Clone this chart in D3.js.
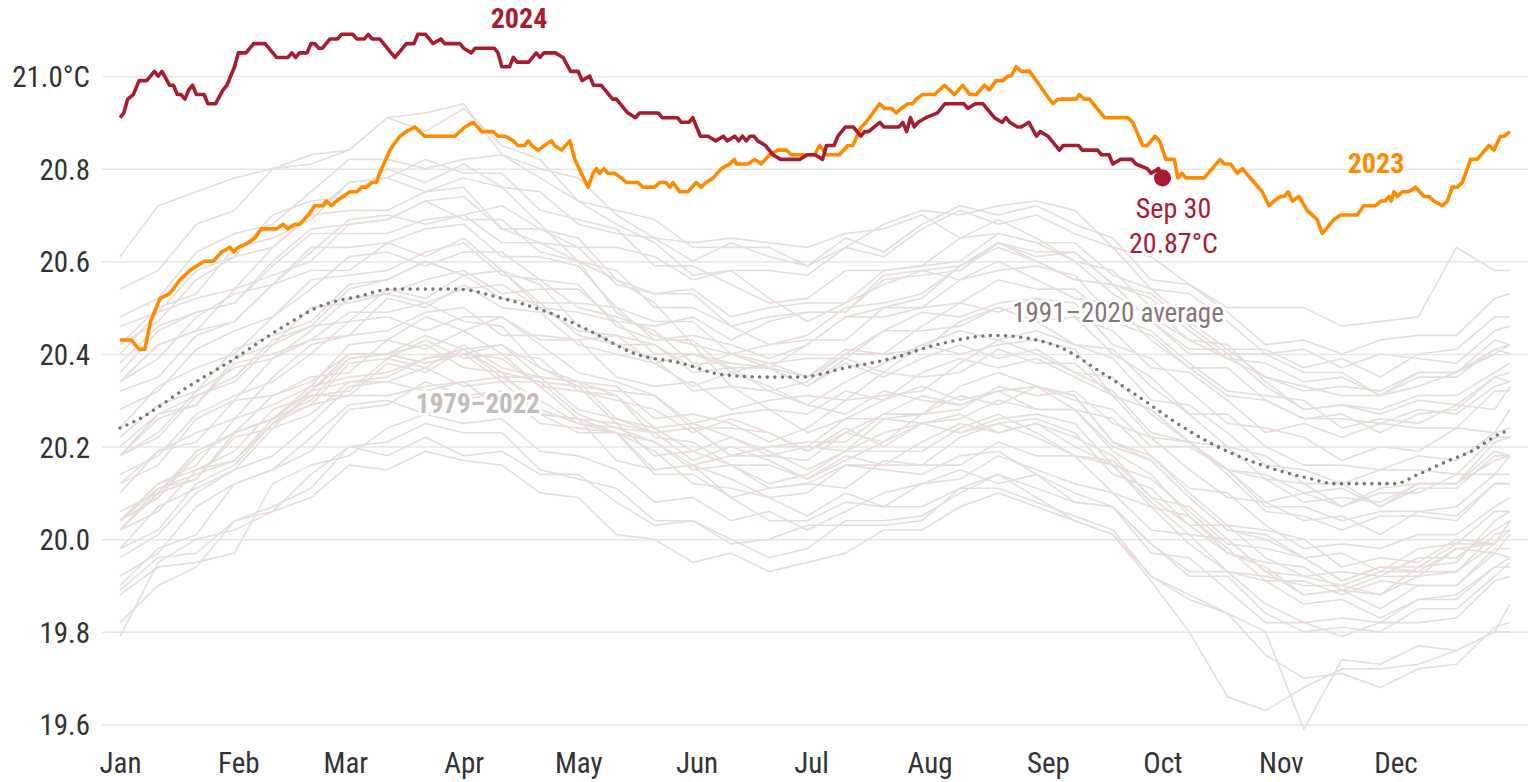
<!DOCTYPE html>
<html>
<head>
<meta charset="utf-8">
<script src="https://cdn.jsdelivr.net/npm/d3@7"></script>
<style>
  body { margin: 0; background: #fff; }
  svg { display: block; font-family: "Roboto Condensed", "Liberation Sans Narrow", "DejaVu Sans Condensed", Roboto, sans-serif; }
  .halo { paint-order: stroke; stroke: #fff; stroke-width: 6px; stroke-linejoin: round; }
</style>
</head>
<body>
<svg width="1528" height="782"></svg>
<script>
// month ticks (day of year, 0 = Jan 1)
var monthStarts = [0, 31, 59, 90, 120, 151, 181, 212, 243, 273, 304, 334];
var monthNames = ["Jan", "Feb", "Mar", "Apr", "May", "Jun", "Jul", "Aug", "Sep", "Oct", "Nov", "Dec"];
var yTicks = [19.6, 19.8, 20.0, 20.2, 20.4, 20.6, 20.8, 21.0];

// 1979-2022, read every 10 days
var grayDays = [0, 10, 20, 30, 40, 50, 60, 70, 80, 90, 100, 110, 120, 130, 140, 150, 160, 170, 180, 190,
  200, 210, 220, 230, 240, 250, 260, 270, 280, 290, 300, 310, 320, 330, 340, 350, 360, 364];
var pastYears = [1979, 1980, 1981, 1982, 1983, 1984, 1985, 1986, 1987, 1988, 1989, 1990, 1991, 1992, 1993, 1994, 1995, 1996, 1997, 1998, 1999, 2000,
  2001, 2002, 2003, 2004, 2005, 2006, 2007, 2008, 2009, 2010, 2011, 2012, 2013, 2014, 2015, 2016, 2017, 2018, 2019, 2020, 2021, 2022];
var pastValues = [
  [20.04,20.11,20.13,20.22,20.24,20.27,20.34,20.34,20.37,20.33,20.34,20.27,20.26,20.25,20.18,20.19,20.16,20.12,20.14,20.19,20.19,20.19,20.24,20.27,20.23,20.18,20.17,20.09,20.03,20.03,19.96,19.92,19.93,19.92,19.96,19.96,20.02,20.04],
  [20.02,20.06,20.15,20.19,20.28,20.31,20.32,20.39,20.37,20.42,20.37,20.35,20.28,20.26,20.24,20.19,20.22,20.19,20.15,20.19,20.23,20.25,20.23,20.25,20.26,20.23,20.14,20.11,20.03,19.97,19.95,19.94,19.89,19.92,19.92,19.98,19.99,20.04],
  [20.04,20.12,20.15,20.17,20.25,20.31,20.31,20.31,20.33,20.34,20.28,20.27,20.26,20.17,20.15,20.16,20.09,20.11,20.12,20.11,20.17,20.16,20.16,20.21,20.18,20.18,20.10,20.07,19.99,19.93,19.91,19.86,19.87,19.83,19.87,19.88,19.94,19.94],
  [19.92,19.97,20.07,20.12,20.15,20.22,20.29,20.30,20.27,20.30,20.32,20.27,20.23,20.23,20.21,20.16,20.18,20.18,20.17,20.23,20.21,20.27,20.31,20.29,20.33,20.30,20.28,20.20,20.20,20.15,20.08,20.10,20.07,20.11,20.12,20.12,20.21,20.22],
  [20.20,20.27,20.29,20.38,20.40,20.43,20.49,20.49,20.51,20.47,20.46,20.37,20.34,20.31,20.22,20.21,20.16,20.11,20.12,20.16,20.15,20.14,20.18,20.19,20.14,20.08,20.07,19.99,19.93,19.93,19.86,19.82,19.83,19.82,19.87,19.87,19.94,19.96],
  [19.89,19.96,19.97,20.04,20.06,20.14,20.20,20.18,20.22,20.18,20.19,20.14,20.14,20.08,20.03,20.04,19.99,20.00,20.03,20.03,20.03,20.04,20.11,20.11,20.08,20.05,20.02,19.92,19.87,19.84,19.75,19.70,19.71,19.68,19.72,19.73,19.81,19.82],
  [19.79,19.95,20.00,20.02,20.06,20.09,20.16,20.15,20.19,20.17,20.16,20.10,20.09,20.01,20.00,19.95,19.97,19.93,19.95,19.97,20.02,20.02,20.07,20.10,20.07,20.04,20.01,19.92,19.88,19.84,19.80,19.59,19.74,19.73,19.77,19.76,19.80,19.80],
  [19.88,19.94,19.95,19.97,20.12,20.16,20.18,20.24,20.27,20.25,20.26,20.19,20.18,20.15,20.08,20.09,20.04,20.06,20.02,20.06,20.10,20.12,20.13,20.18,20.15,20.12,20.10,20.02,20.01,19.93,19.92,19.90,19.90,19.88,19.94,19.95,20.04,20.06],
  [20.04,20.09,20.18,20.23,20.26,20.32,20.40,20.40,20.38,20.40,20.42,20.37,20.33,20.32,20.31,20.25,20.27,20.28,20.27,20.32,20.30,20.36,20.39,20.37,20.39,20.35,20.31,20.22,20.21,20.15,20.07,20.07,20.04,20.06,20.06,20.05,20.12,20.12],
  [20.12,20.19,20.21,20.30,20.31,20.34,20.40,20.40,20.42,20.37,20.36,20.28,20.25,20.23,20.14,20.14,20.09,20.04,20.04,20.08,20.07,20.07,20.11,20.14,20.09,20.04,20.01,19.91,19.80,19.66,19.63,19.68,19.72,19.72,19.73,19.76,19.80,19.86],
  [19.82,19.90,19.94,20.04,20.07,20.11,20.20,20.21,20.25,20.23,20.23,20.15,20.13,20.11,20.04,20.04,20.00,19.96,19.98,20.04,20.04,20.05,20.10,20.14,20.11,20.08,20.07,19.99,19.92,19.92,19.84,19.80,19.81,19.80,19.85,19.85,19.92,19.95],
  [19.98,20.07,20.11,20.15,20.24,20.32,20.34,20.35,20.39,20.41,20.35,20.35,20.34,20.26,20.23,20.24,20.18,20.20,20.20,20.19,20.26,20.25,20.26,20.30,20.28,20.28,20.20,20.17,20.09,20.02,20.01,19.96,19.97,19.93,19.98,19.99,20.06,20.06],
  [20.06,20.10,20.19,20.23,20.31,20.35,20.36,20.43,20.41,20.45,20.40,20.39,20.32,20.30,20.28,20.23,20.26,20.23,20.19,20.23,20.27,20.31,20.29,20.32,20.33,20.31,20.21,20.18,20.10,20.03,20.02,20.00,19.94,19.96,19.95,20.00,19.99,20.04],
  [20.04,20.09,20.19,20.23,20.26,20.32,20.39,20.40,20.38,20.40,20.39,20.33,20.26,20.23,20.19,20.12,20.11,20.09,20.05,20.10,20.07,20.12,20.15,20.12,20.14,20.10,20.07,19.97,19.96,19.89,19.82,19.82,19.79,19.82,19.82,19.83,19.91,19.92],
  [19.90,19.98,20.01,20.12,20.15,20.19,20.28,20.29,20.34,20.31,20.32,20.25,20.24,20.23,20.15,20.16,20.13,20.09,20.10,20.16,20.16,20.16,20.22,20.25,20.22,20.18,20.16,20.08,20.01,20.00,19.93,19.88,19.89,19.88,19.92,19.93,19.99,20.02],
  [20.02,20.11,20.14,20.17,20.26,20.33,20.35,20.36,20.39,20.40,20.34,20.34,20.33,20.25,20.23,20.24,20.18,20.20,20.21,20.21,20.27,20.27,20.28,20.33,20.31,20.32,20.25,20.22,20.15,20.09,20.08,20.04,20.05,20.01,20.06,20.07,20.14,20.14],
  [20.14,20.18,20.27,20.31,20.34,20.40,20.47,20.48,20.45,20.48,20.48,20.42,20.36,20.34,20.31,20.24,20.24,20.23,20.19,20.24,20.20,20.25,20.27,20.23,20.25,20.20,20.16,20.07,20.05,19.98,19.91,19.91,19.88,19.91,19.90,19.90,19.98,19.98],
  [19.98,20.02,20.12,20.16,20.25,20.29,20.31,20.38,20.36,20.41,20.36,20.34,20.27,20.24,20.23,20.17,20.20,20.17,20.13,20.17,20.21,20.25,20.23,20.26,20.27,20.25,20.16,20.13,20.06,19.99,19.98,19.96,19.91,19.94,19.94,19.99,19.99,20.04],
  [20.04,20.12,20.16,20.26,20.29,20.33,20.42,20.43,20.48,20.45,20.48,20.43,20.43,20.44,20.38,20.40,20.38,20.37,20.42,20.48,20.50,20.52,20.59,20.63,20.60,20.56,20.55,20.47,20.41,20.41,20.35,20.32,20.33,20.32,20.36,20.36,20.41,20.42],
  [20.40,20.49,20.52,20.54,20.63,20.70,20.71,20.71,20.75,20.76,20.67,20.64,20.60,20.49,20.44,20.42,20.33,20.32,20.29,20.27,20.32,20.30,20.29,20.32,20.28,20.28,20.19,20.14,20.05,19.97,19.94,19.88,19.89,19.85,19.90,19.90,19.97,19.96],
  [19.96,20.01,20.10,20.15,20.18,20.25,20.33,20.34,20.32,20.34,20.35,20.30,20.25,20.24,20.21,20.15,20.16,20.16,20.13,20.18,20.16,20.21,20.25,20.23,20.25,20.22,20.18,20.09,20.07,20.00,19.93,19.92,19.90,19.93,19.93,19.93,20.01,20.02],
  [20.02,20.10,20.13,20.23,20.26,20.29,20.38,20.39,20.43,20.39,20.40,20.33,20.32,20.31,20.24,20.25,20.22,20.18,20.20,20.26,20.26,20.27,20.33,20.36,20.33,20.28,20.26,20.18,20.11,20.10,20.03,19.98,19.99,19.98,20.01,20.01,20.07,20.09],
  [20.10,20.19,20.23,20.26,20.35,20.42,20.44,20.45,20.49,20.50,20.44,20.44,20.43,20.35,20.33,20.34,20.28,20.30,20.31,20.30,20.36,20.35,20.36,20.41,20.38,20.38,20.31,20.28,20.21,20.15,20.14,20.10,20.11,20.07,20.12,20.12,20.19,20.18],
  [20.18,20.22,20.31,20.35,20.43,20.46,20.47,20.54,20.52,20.57,20.52,20.51,20.44,20.42,20.42,20.37,20.40,20.38,20.35,20.40,20.45,20.49,20.48,20.51,20.52,20.51,20.42,20.39,20.32,20.25,20.24,20.22,20.17,20.20,20.19,20.24,20.23,20.28],
  [20.28,20.32,20.41,20.45,20.48,20.54,20.61,20.62,20.59,20.62,20.62,20.56,20.50,20.48,20.45,20.38,20.38,20.37,20.33,20.39,20.36,20.42,20.45,20.43,20.45,20.42,20.39,20.30,20.29,20.23,20.16,20.15,20.12,20.15,20.15,20.14,20.22,20.22],
  [20.22,20.29,20.32,20.41,20.44,20.47,20.55,20.56,20.60,20.57,20.58,20.50,20.49,20.47,20.40,20.40,20.37,20.32,20.34,20.40,20.40,20.41,20.47,20.50,20.47,20.42,20.41,20.33,20.27,20.27,20.20,20.16,20.16,20.15,20.18,20.17,20.23,20.24],
  [20.24,20.33,20.37,20.40,20.48,20.56,20.57,20.58,20.62,20.64,20.57,20.56,20.55,20.46,20.43,20.43,20.36,20.38,20.39,20.39,20.45,20.45,20.46,20.50,20.47,20.48,20.40,20.35,20.27,20.20,20.18,20.12,20.12,20.07,20.11,20.11,20.18,20.18],
  [20.18,20.23,20.32,20.37,20.39,20.45,20.52,20.53,20.51,20.54,20.55,20.50,20.45,20.44,20.42,20.36,20.37,20.37,20.35,20.41,20.40,20.46,20.51,20.49,20.52,20.48,20.45,20.37,20.36,20.30,20.23,20.25,20.22,20.25,20.24,20.24,20.32,20.32],
  [20.32,20.35,20.44,20.47,20.55,20.58,20.58,20.64,20.61,20.65,20.58,20.55,20.46,20.42,20.39,20.32,20.33,20.28,20.23,20.26,20.30,20.33,20.30,20.32,20.33,20.31,20.21,20.17,20.09,20.02,20.00,19.96,19.91,19.94,19.93,19.98,19.97,20.01],
  [20.02,20.10,20.13,20.23,20.26,20.30,20.39,20.40,20.44,20.41,20.42,20.35,20.34,20.33,20.26,20.27,20.25,20.21,20.24,20.30,20.31,20.32,20.38,20.43,20.40,20.36,20.35,20.27,20.21,20.20,20.13,20.08,20.09,20.08,20.12,20.12,20.17,20.18],
  [20.18,20.27,20.31,20.34,20.42,20.50,20.51,20.53,20.56,20.58,20.53,20.54,20.54,20.47,20.46,20.48,20.43,20.47,20.49,20.49,20.57,20.58,20.59,20.64,20.62,20.62,20.55,20.52,20.45,20.39,20.38,20.34,20.35,20.31,20.36,20.36,20.43,20.42],
  [20.42,20.47,20.56,20.61,20.63,20.70,20.77,20.78,20.75,20.78,20.76,20.68,20.60,20.56,20.51,20.42,20.40,20.37,20.33,20.38,20.35,20.39,20.42,20.39,20.41,20.36,20.32,20.23,20.21,20.14,20.06,20.05,20.02,20.05,20.05,20.04,20.12,20.12],
  [20.12,20.16,20.26,20.30,20.39,20.43,20.44,20.52,20.50,20.55,20.50,20.49,20.42,20.40,20.38,20.33,20.36,20.33,20.29,20.34,20.38,20.42,20.40,20.42,20.43,20.41,20.31,20.28,20.21,20.15,20.13,20.12,20.07,20.10,20.10,20.14,20.14,20.18],
  [20.18,20.26,20.29,20.39,20.42,20.46,20.54,20.56,20.60,20.57,20.58,20.51,20.51,20.50,20.43,20.44,20.42,20.39,20.42,20.48,20.48,20.50,20.56,20.60,20.56,20.52,20.51,20.43,20.37,20.37,20.30,20.26,20.26,20.25,20.28,20.27,20.33,20.34],
  [20.34,20.42,20.45,20.47,20.55,20.63,20.63,20.64,20.67,20.68,20.61,20.61,20.59,20.50,20.47,20.47,20.40,20.42,20.43,20.43,20.50,20.50,20.51,20.56,20.54,20.54,20.47,20.44,20.37,20.31,20.30,20.26,20.27,20.23,20.27,20.28,20.35,20.34],
  [20.34,20.39,20.48,20.53,20.55,20.62,20.69,20.70,20.68,20.70,20.72,20.67,20.63,20.63,20.61,20.56,20.58,20.58,20.57,20.63,20.61,20.67,20.71,20.68,20.70,20.66,20.63,20.54,20.53,20.47,20.40,20.41,20.37,20.40,20.39,20.38,20.45,20.46],
  [20.46,20.49,20.58,20.61,20.70,20.73,20.74,20.80,20.77,20.81,20.76,20.75,20.68,20.66,20.65,20.60,20.64,20.61,20.59,20.63,20.68,20.71,20.70,20.72,20.73,20.71,20.63,20.61,20.55,20.50,20.50,20.50,20.46,20.47,20.48,20.63,20.58,20.58],
  [20.61,20.72,20.75,20.78,20.80,20.81,20.84,20.91,20.92,20.94,20.83,20.80,20.78,20.70,20.65,20.64,20.65,20.64,20.63,20.66,20.67,20.70,20.65,20.66,20.64,20.60,20.53,20.48,20.43,20.39,20.35,20.33,20.31,20.31,20.33,20.36,20.40,20.42],
  [20.42,20.50,20.53,20.63,20.65,20.69,20.77,20.78,20.82,20.79,20.79,20.71,20.69,20.67,20.59,20.59,20.55,20.51,20.52,20.58,20.58,20.59,20.65,20.69,20.65,20.60,20.58,20.50,20.43,20.42,20.34,20.28,20.29,20.28,20.31,20.31,20.36,20.38],
  [20.38,20.46,20.49,20.51,20.59,20.66,20.66,20.66,20.69,20.70,20.64,20.64,20.63,20.55,20.53,20.54,20.48,20.50,20.51,20.51,20.58,20.59,20.60,20.66,20.64,20.64,20.57,20.54,20.47,20.41,20.41,20.37,20.39,20.35,20.40,20.41,20.48,20.48],
  [20.48,20.52,20.62,20.66,20.68,20.75,20.82,20.82,20.80,20.82,20.83,20.78,20.73,20.71,20.69,20.63,20.63,20.63,20.59,20.65,20.62,20.68,20.72,20.70,20.72,20.68,20.65,20.56,20.55,20.49,20.42,20.43,20.40,20.43,20.44,20.44,20.52,20.53],
  [20.54,20.58,20.68,20.71,20.80,20.83,20.84,20.91,20.88,20.93,20.85,20.82,20.73,20.68,20.64,20.57,20.58,20.52,20.47,20.51,20.55,20.58,20.56,20.58,20.59,20.57,20.48,20.45,20.38,20.32,20.31,20.30,20.24,20.26,20.25,20.29,20.28,20.33],
  [20.34,20.42,20.45,20.54,20.57,20.60,20.68,20.69,20.73,20.69,20.69,20.62,20.60,20.58,20.50,20.50,20.46,20.42,20.44,20.50,20.51,20.53,20.59,20.64,20.60,20.56,20.55,20.47,20.40,20.40,20.33,20.28,20.29,20.27,20.30,20.29,20.35,20.36],
  [20.36,20.45,20.49,20.51,20.60,20.67,20.68,20.69,20.73,20.74,20.67,20.67,20.65,20.56,20.53,20.53,20.46,20.48,20.49,20.49,20.56,20.57,20.58,20.64,20.61,20.62,20.55,20.53,20.46,20.40,20.40,20.36,20.36,20.31,20.35,20.35,20.41,20.40]
];

// 1991-2020 average [day, °C]
var avgSeries = [[0, 20.24], [4, 20.255], [18, 20.33], [30, 20.39], [42, 20.455], [53, 20.505], [63, 20.525], [71, 20.54], [77, 20.54], [88, 20.54],
  [100, 20.52], [112, 20.49], [123, 20.45], [135, 20.40], [147, 20.38], [158, 20.355], [170, 20.35], [178, 20.35], [190, 20.37], [202, 20.39],
  [214, 20.42], [229, 20.44], [240, 20.43], [246, 20.415], [257, 20.36], [269, 20.295], [275, 20.26], [285, 20.21], [299, 20.16], [312, 20.13],
  [318, 20.12], [334, 20.12], [340, 20.14], [348, 20.17], [354, 20.19], [362, 20.23], [364, 20.235]];

// 2023 [day, °C]
var s2023 = [[0,20.43],[3,20.43],[5,20.41],[6.5,20.41],[8,20.47],[10.5,20.52],[13,20.53],[15.7,20.56],[18.3,20.58],[22,20.60],[24.4,20.60],[26.6,20.62],[28.8,20.63],[29.7,20.62],[31,20.63],[33.6,20.64],[35.3,20.65],[37,20.67],[41,20.67],[42.7,20.68],[44,20.67],[45.8,20.68],[47,20.68],[49.3,20.70],[51,20.72],[53.2,20.72],[54,20.73],[55.4,20.72],[56.7,20.73],[58.4,20.74],[60.2,20.75],[62,20.75],[63.3,20.76],[64.6,20.76],[65.9,20.77],[67.2,20.77],[68,20.79],[70.7,20.84],[71.5,20.85],[73.3,20.87],[75,20.88],[77.2,20.89],[79.8,20.87],[87.7,20.87],[90.3,20.89],[92.5,20.90],[94.7,20.88],[97.7,20.88],[99,20.87],[100.8,20.87],[103,20.86],[104.2,20.85],[106,20.85],[106.9,20.86],[107.8,20.85],[109.5,20.84],[111.2,20.85],[113,20.86],[113.8,20.85],[115.6,20.84],[117.8,20.86],[119.1,20.82],[120.8,20.79],[122.6,20.76],[123.9,20.79],[124.8,20.80],[125.6,20.79],[126.7,20.80],[127.8,20.79],[129.5,20.79],[131.3,20.78],[132.6,20.77],[135.6,20.77],[137,20.76],[140,20.76],[141.3,20.77],[143,20.77],[144,20.76],[144.8,20.77],[146.6,20.75],[148.7,20.75],[150.9,20.77],[152.2,20.76],[153.5,20.77],[155.3,20.78],[157.5,20.80],[159.6,20.81],[160.9,20.82],[161.4,20.81],[164.4,20.81],[166.2,20.82],[167.9,20.81],[170.1,20.83],[172.3,20.84],[174.5,20.84],[175.8,20.83],[181.9,20.83],[183.2,20.85],[185,20.83],[188.4,20.83],[190.6,20.85],[191.9,20.85],[194.1,20.89],[195.4,20.90],[198.9,20.94],[200.2,20.93],[202,20.93],[203.3,20.92],[204.6,20.93],[206.3,20.94],[207.6,20.94],[208.5,20.95],[210.2,20.96],[213.3,20.96],[215.9,20.98],[218.5,20.96],[220.7,20.98],[222.5,20.96],[224.2,20.96],[226.4,20.98],[227.7,20.97],[229.4,20.99],[231.2,20.99],[232.5,21.00],[233.4,21.00],[234.7,21.02],[236,21.01],[238.2,21.01],[240.8,20.98],[242.5,20.96],[244.3,20.94],[245.6,20.95],[250.4,20.95],[251.2,20.96],[252.5,20.95],[253.9,20.95],[257.8,20.91],[263.9,20.91],[265.2,20.90],[267.8,20.85],[269,20.85],[271.1,20.87],[272.2,20.86],[273.9,20.82],[276.1,20.82],[277,20.78],[278.1,20.79],[279.1,20.78],[283.9,20.78],[288.1,20.82],[289.2,20.81],[290.8,20.81],[292.6,20.79],[293.9,20.80],[297,20.77],[299.1,20.75],[300.9,20.72],[302.2,20.73],[303.9,20.74],[304.9,20.74],[305.9,20.75],[307,20.73],[308.7,20.74],[310.9,20.71],[313.5,20.69],[314.8,20.66],[317.9,20.69],[319.6,20.70],[324,20.70],[325.7,20.72],[328.8,20.72],[330.1,20.73],[331.3,20.73],[332.3,20.74],[332.9,20.73],[333.6,20.75],[334.5,20.74],[335.8,20.75],[337.5,20.75],[339.3,20.76],[341.5,20.74],[342.8,20.74],[344.1,20.73],[346.3,20.72],[347.6,20.73],[348.9,20.76],[350.2,20.76],[351.5,20.77],[353.7,20.82],[355.4,20.82],[358.5,20.85],[359.8,20.84],[361.5,20.87],[362.5,20.87],[364,20.88]];

// 2024 through Sep 30 [day, °C]
var s2024 = [[0,20.91],[1,20.92],[2,20.95],[3.5,20.96],[5,20.99],[7,20.99],[9,21.01],[10,21.00],[11,21.01],[13,20.98],[14,20.98],[15,20.96],[16,20.96],[17,20.95],[18,20.97],[19,20.98],[20,20.96],[22,20.96],[23,20.94],[25,20.94],[27,20.97],[28,20.98],[30,21.02],[31,21.05],[33,21.05],[35,21.07],[38,21.07],[41,21.04],[44,21.04],[45,21.05],[46,21.04],[47,21.05],[49,21.05],[50,21.07],[51,21.07],[52,21.06],[53,21.06],[55,21.08],[57,21.08],[58,21.09],[61,21.09],[62,21.08],[64,21.08],[65,21.09],[66,21.08],[68,21.08],[71,21.05],[72,21.04],[73,21.05],[75,21.07],[77,21.07],[78,21.09],[80,21.09],[82,21.07],[84,21.08],[85,21.07],[89,21.07],[90,21.06],[92,21.05],[93,21.06],[98,21.06],[99,21.05],[100,21.02],[102,21.02],[103,21.04],[104,21.03],[107,21.03],[109,21.05],[110,21.04],[111,21.05],[114,21.05],[116,21.04],[118,21.01],[120,21.01],[121,20.99],[123,21.00],[124,20.98],[126,20.98],[127,20.97],[129,20.95],[130,20.95],[133,20.92],[135,20.91],[136,20.92],[141,20.92],[142,20.91],[146,20.91],[147,20.90],[149,20.90],[150,20.91],[151,20.89],[152,20.87],[154,20.87],[156,20.86],[158,20.87],[159,20.86],[161,20.87],[162,20.86],[163,20.87],[164,20.86],[165,20.87],[166,20.87],[167,20.86],[169,20.85],[171,20.83],[173,20.82],[178,20.82],[180,20.83],[182,20.83],[184,20.82],[185,20.85],[187,20.85],[188,20.87],[190,20.89],[192,20.89],[194,20.87],[195,20.88],[196,20.88],[199,20.90],[200,20.89],[204,20.89],[205,20.90],[206,20.88],[207,20.91],[208,20.89],[209,20.90],[211,20.91],[214,20.92],[216,20.94],[221,20.94],[222,20.93],[224,20.94],[226,20.94],[228,20.92],[229,20.91],[231,20.90],[232,20.91],[233,20.90],[235,20.89],[236,20.89],[238,20.90],[240,20.87],[241,20.88],[243,20.87],[246,20.84],[247,20.85],[251,20.85],[252,20.84],[256,20.84],[257,20.83],[259,20.83],[260,20.81],[262,20.82],[265,20.82],[266,20.81],[269,20.80],[270,20.79],[272,20.80],[273,20.78]];
var lastLabel = ["Sep 30", "20.87°C"];

var svg = d3.select("svg");

var x = d3.scaleLinear().domain([0, 364]).range([120, 1510]);
var y = d3.scaleLinear().domain([19.6, 21.0]).range([724.5, 76]);

// y grid + labels
var yAxis = svg.append("g")
    .attr("transform", "translate(1528,0)")
    .call(d3.axisLeft(y)
        .tickValues(yTicks)
        .tickSize(1426)
        .tickPadding(12)
        .tickFormat(function (d) { return d === 21 ? "21.0°C" : d.toFixed(1); }))
    .attr("font-family", null);
yAxis.select(".domain").remove();
yAxis.selectAll("line").attr("stroke", "#e6e6e6").attr("stroke-width", 1.5);
yAxis.selectAll("text").attr("fill", "#333").attr("font-size", 29).attr("dy", "0.36em");

// x labels
var xAxis = svg.append("g")
    .attr("transform", "translate(0,748)")
    .call(d3.axisBottom(x)
        .tickValues(monthStarts)
        .tickSize(0)
        .tickPadding(4)
        .tickFormat(function (d, i) { return monthNames[i]; }))
    .attr("font-family", null);
xAxis.select(".domain").remove();
xAxis.selectAll("text").attr("fill", "#333").attr("font-size", 29);

var line = d3.line()
    .x(function (d) { return x(d[0]); })
    .y(function (d) { return y(d[1]); });

// past years
svg.append("g")
    .selectAll("path")
    .data(pastValues)
    .enter().append("path")
    .attr("d", function (vals) {
        return line(vals.map(function (v, i) { return [grayDays[i], v]; }));
    })
    .attr("fill", "none")
    .attr("stroke", "#e7dcd9")
    .attr("stroke-width", 1.6)
    .attr("stroke-linejoin", "round");

svg.append("text")
    .attr("class", "halo")
    .attr("x", 478).attr("y", 413)
    .attr("text-anchor", "middle")
    .attr("font-size", 27).attr("font-weight", "bold")
    .attr("fill", "#c6bbb9")
    .text(pastYears[0] + "–" + pastYears[pastYears.length - 1]);

// average
svg.append("path")
    .attr("d", line.curve(d3.curveMonotoneX)(avgSeries))
    .attr("fill", "none")
    .attr("stroke", "#787878")
    .attr("stroke-width", 3.6)
    .attr("stroke-linecap", "round")
    .attr("stroke-dasharray", "0 7.6");
line.curve(d3.curveLinear);

svg.append("text")
    .attr("class", "halo")
    .attr("x", 1118).attr("y", 322)
    .attr("text-anchor", "middle")
    .attr("font-size", 27)
    .attr("fill", "#8b7474")
    .text("1991–2020 average");

// 2023
svg.append("path")
    .attr("d", line(s2023))
    .attr("fill", "none")
    .attr("stroke", "#ff8a00")
    .attr("stroke-width", 3.6)
    .attr("stroke-linejoin", "round");

svg.append("text")
    .attr("class", "halo")
    .attr("x", 1376).attr("y", 173)
    .attr("text-anchor", "middle")
    .attr("font-size", 28).attr("font-weight", "bold")
    .attr("fill", "#ff8a00")
    .text("2023");

// 2024
svg.append("path")
    .attr("d", line(s2024))
    .attr("fill", "none")
    .attr("stroke", "#a81c2f")
    .attr("stroke-width", 3.6)
    .attr("stroke-linejoin", "round");

var last = s2024[s2024.length - 1];
svg.append("circle")
    .attr("cx", x(last[0])).attr("cy", y(last[1]))
    .attr("r", 8.5)
    .attr("fill", "#a81c2f");

svg.append("text")
    .attr("x", 519).attr("y", 28)
    .attr("text-anchor", "middle")
    .attr("font-size", 28).attr("font-weight", "bold")
    .attr("fill", "#a81c2f")
    .text("2024");

svg.selectAll(".lastlab")
    .data(lastLabel)
    .enter().append("text")
    .attr("class", "lastlab halo")
    .attr("x", x(last[0]) + 11)
    .attr("y", function (d, i) { return 218 + i * 35; })
    .attr("text-anchor", "middle")
    .attr("font-size", 28)
    .attr("fill", "#a81c2f")
    .text(function (d) { return d; });
</script>
</body>
</html>
